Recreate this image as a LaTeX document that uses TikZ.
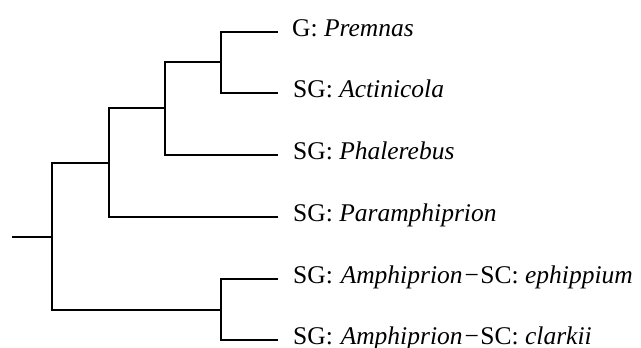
\documentclass[tikz,border=0pt]{standalone}
\usepackage{fontspec}
\setmainfont{Liberation Serif}
% genus/subclade separator used in the Amphiprion labels
\newcommand{\cladesep}{\kern2pt\char"2212\kern1.5pt}
\begin{document}
\begin{tikzpicture}[x=1pt,y=-1pt,
  branch/.style={line width=1.2pt,line cap=rect},
  taxon/.style={anchor=base west,inner sep=0pt,font=\fontsize{25.5}{28}\selectfont}]
\useasboundingbox (0,0) rectangle (641,348);
% leaf tips
\coordinate (l1) at (277,32);
\coordinate (l2) at (277,93);
\coordinate (l3) at (277,155);
\coordinate (l4) at (277,217);
\coordinate (l5) at (277,279);
\coordinate (l6) at (277,340);
% internal nodes
\coordinate (n1) at (221,62);
\coordinate (n2) at (165,108);
\coordinate (n3) at (109,163);
\coordinate (n4) at (221,310);
\coordinate (root) at (52,237);
\coordinate (stub) at (13,237);
% branches
\draw[branch] (l1) -| (n1) |- (l2);
\draw[branch] (n1) -| (n2) |- (l3);
\draw[branch] (n2) -| (n3) |- (l4);
\draw[branch] (l5) -| (n4) |- (l6);
\draw[branch] (n3) -| (root) |- (n4);
\draw[branch] (stub) -- (root);
% taxon labels
\node[taxon] (t1) at (292,36.5) {G: \textit{Premnas}};
\node[taxon] (t2) at (293,97.5) {SG: \textit{Actinicola}};
\node[taxon] (t3) at (293,159.5) {SG: \textit{Phalerebus}};
\node[taxon] (t4) at (293,221.5) {SG: \textit{Paramphiprion}};
\node[taxon] (t5) at (293,283.5) {SG:\kern1.5pt\ \textit{Amphiprion}\cladesep SC: \textit{ephippium}};
\node[taxon] (t6) at (293,344) {SG:\kern1.5pt\ \textit{Amphiprion}\cladesep SC: \textit{clarkii}};
\end{tikzpicture}
\end{document}
